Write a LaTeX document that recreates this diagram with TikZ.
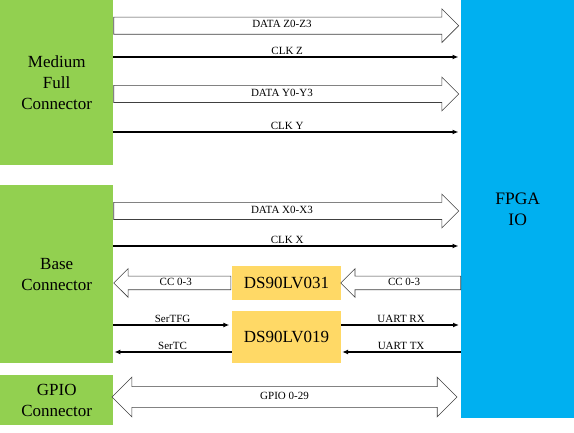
\documentclass[tikz,border=0pt]{standalone}
\usepackage{fontspec}
\setmainfont{Liberation Serif}
\usetikzlibrary{positioning}
\usetikzlibrary{shapes.arrows, arrows.meta}

\definecolor{conngreen}{RGB}{146,208,80}
\definecolor{fpgablue}{RGB}{0,176,240}
\definecolor{chipyellow}{RGB}{255,217,102}

\begin{document}
\begin{tikzpicture}[x=1pt,y=-1pt,
  conn/.style={rectangle,fill=conngreen,minimum width=113pt,inner sep=0pt,align=center,anchor=north west,font=\fontsize{17}{21}\selectfont},
  chip/.style={rectangle,fill=chipyellow,minimum width=109pt,inner sep=0pt,font=\fontsize{17}{21}\selectfont},
  fat/.style={shape=single arrow,draw=black!75,fill=white,line width=0.6pt,single arrow head extend=8.25pt,single arrow tip angle=90,inner xsep=2pt,inner ysep=4.5pt,text height=6pt,text depth=1.5pt,font=\fontsize{11}{12}\selectfont},
  ccarrow/.style={fat,inner ysep=2.75pt,single arrow head extend=7.5pt,shape border rotate=180},
  wire/.style={line width=1.6pt,-{Latex[length=6pt,width=5pt]}},
  lbl/.style={font=\fontsize{11}{12}\selectfont,inner sep=0pt,above=1.5pt}
]
\useasboundingbox (0,0) rectangle (574,433);

% connectors and fpga
\node[conn,minimum height=165pt] (mfc) at (0,0) {Medium\\Full\\Connector};
\node[conn,minimum height=178pt] (base) at (0,185) {Base\\Connector};
\node[conn,minimum height=50pt] (gpio) at (0,375) {GPIO\\Connector};
\node[rectangle,fill=fpgablue,minimum width=113pt,minimum height=418pt,inner sep=0pt,anchor=north west,align=center,font=\fontsize{17.5}{21}\selectfont] (fpga) at (461,0) {FPGA\\IO};

% line drivers
\node[chip,minimum height=34pt] (lv031) at (286.5,283) {DS90LV031};
\node[chip,minimum height=52pt,below=11pt of lv031] (lv019) {DS90LV019};

% medium full connector
\node[fat,minimum height=345pt,anchor=tail] (dataz) at (mfc.east |- 0,25.7) {DATA Z0-Z3};
\draw[wire,shorten >=2.5pt] (mfc.east |- 0,57) -- (fpga.west |- 0,57) node[lbl,midway] {CLK Z};
\node[fat,minimum height=345pt,anchor=tail] (datay) at (mfc.east |- 0,94) {DATA Y0-Y3};
\draw[wire,shorten >=2.5pt] (mfc.east |- 0,132) -- (fpga.west |- 0,132) node[lbl,midway] {CLK Y};

% base connector
\node[fat,minimum height=345pt,anchor=tail] (datax) at (base.east |- 0,211) {DATA X0-X3};
\draw[wire,shorten >=2.5pt] (base.east |- 0,246) -- (fpga.west |- 0,246) node[lbl,midway] {CLK X};
\node[ccarrow,minimum height=117pt,anchor=tip] (ccleft) at (base.east |- lv031.west) {CC 0-3};
\node[ccarrow,minimum height=120pt,anchor=tail] (ccright) at (fpga.west |- lv031.east) {CC 0-3};
\draw[wire,shorten >=2.5pt] (base.east |- 0,325) -- (lv019.west |- 0,325) node[lbl,midway] {SerTFG};
\draw[wire,shorten >=2pt] (lv019.east |- 0,325) -- (fpga.west |- 0,325) node[lbl,midway] {UART RX};
\draw[wire,shorten >=1pt] (lv019.west |- 0,352) -- (base.east |- 0,352) node[lbl,midway] {SerTC};
\draw[wire,shorten >=1pt] (fpga.west |- 0,352) -- (lv019.east |- 0,352) node[lbl,midway] {UART TX};

% gpio
\node[fat,shape=double arrow,minimum height=345pt,double arrow head extend=9.5pt,double arrow tip angle=90,inner ysep=6.25pt] (gpiobus) at (284.5,397) {GPIO 0-29};

\end{tikzpicture}
\end{document}
